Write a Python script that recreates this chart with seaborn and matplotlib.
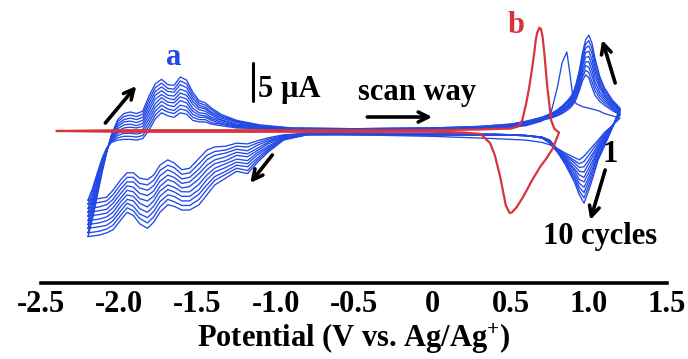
import matplotlib
matplotlib.use("Agg")
import matplotlib.pyplot as plt
import numpy as np
import pandas as pd
import seaborn as sns
from matplotlib.ticker import FixedLocator, FixedFormatter, MultipleLocator

sns.set_style("white")
plt.rcParams["font.family"] = ["Liberation Serif", "DejaVu Serif"]
plt.rcParams["font.weight"] = "bold"
plt.rcParams["text.color"] = "black"
plt.rcParams["axes.labelcolor"] = "black"
plt.rcParams["xtick.color"] = "black"
plt.rcParams["mathtext.fontset"] = "custom"
plt.rcParams["mathtext.bf"] = "Liberation Serif:bold"
plt.rcParams["mathtext.rm"] = "Liberation Serif:bold"
plt.rcParams["mathtext.default"] = "bf"

# ---------------- data (potential in V, current in uA) ----------------
cycles = list(range(1, 11))

# anodic (forward) sweep, -2.2 V -> 1.2 V ; one row per potential, columns = cycle 1..10
fwd_potential = [-2.20, -2.17, -2.14, -2.11, -2.08, -2.05, -2.01, -1.97, -1.93, -1.89,
                 -1.85, -1.81, -1.77, -1.73, -1.69, -1.65, -1.61, -1.57, -1.53, -1.49,
                 -1.45, -1.41, -1.35, -1.25, -1.10, -0.90, -0.50, 0.00, 0.30, 0.50,
                 0.60, 0.70, 0.76, 0.80, 0.83, 0.86, 0.88, 0.90, 0.92, 0.94,
                 0.96, 0.98, 1.00, 1.02, 1.04, 1.07, 1.10, 1.15, 1.20]
fwd_current = [
    [-9.1, -9.6, -10.2, -10.7, -11.2, -11.8, -12.3, -12.8, -13.4, -13.9],
    [-7.5, -7.9, -8.4, -8.8, -9.3, -9.7, -10.2, -10.6, -11.1, -11.5],
    [-5.5, -5.8, -6.2, -6.5, -6.8, -7.2, -7.5, -7.8, -8.2, -8.5],
    [-3.6, -3.8, -4.0, -4.2, -4.4, -4.7, -4.9, -5.1, -5.3, -5.5],
    [-2.2, -2.3, -2.3, -2.4, -2.5, -2.5, -2.6, -2.7, -2.7, -2.8],
    [-1.5, -1.4, -1.3, -1.2, -1.1, -0.9, -0.8, -0.7, -0.6, -0.5],
    [-1.2, -0.9, -0.6, -0.3, 0.0, 0.3, 0.6, 0.9, 1.2, 1.5],
    [-1.1, -0.7, -0.3, 0.0, 0.4, 0.8, 1.2, 1.5, 1.9, 2.3],
    [-1.1, -0.7, -0.3, 0.1, 0.5, 0.9, 1.3, 1.7, 2.1, 2.5],
    [-1.2, -0.8, -0.4, 0.0, 0.4, 0.7, 1.1, 1.5, 1.9, 2.3],
    [-1.0, -0.6, -0.2, 0.2, 0.6, 1.0, 1.4, 1.8, 2.2, 2.6],
    [0.1, 0.6, 1.1, 1.6, 2.1, 2.6, 3.1, 3.6, 4.1, 4.6],
    [1.6, 2.1, 2.6, 3.1, 3.6, 4.2, 4.7, 5.2, 5.7, 6.2],
    [2.4, 2.9, 3.4, 3.9, 4.4, 4.8, 5.3, 5.8, 6.3, 6.8],
    [2.0, 2.5, 2.9, 3.4, 3.8, 4.3, 4.7, 5.2, 5.6, 6.1],
    [1.8, 2.3, 2.7, 3.2, 3.7, 4.1, 4.6, 5.1, 5.5, 6.0],
    [2.4, 2.9, 3.4, 4.0, 4.5, 5.0, 5.5, 6.1, 6.6, 7.1],
    [2.2, 2.7, 3.2, 3.7, 4.2, 4.7, 5.2, 5.7, 6.2, 6.7],
    [1.4, 1.8, 2.2, 2.6, 3.0, 3.5, 3.9, 4.3, 4.7, 5.1],
    [1.2, 1.5, 1.8, 2.1, 2.4, 2.8, 3.1, 3.4, 3.7, 4.0],
    [1.2, 1.5, 1.8, 2.0, 2.3, 2.6, 2.9, 3.1, 3.4, 3.7],
    [0.9, 1.1, 1.4, 1.6, 1.8, 2.1, 2.3, 2.5, 2.8, 3.0],
    [0.7, 0.9, 1.0, 1.2, 1.4, 1.5, 1.7, 1.9, 2.0, 2.2],
    [0.4, 0.5, 0.6, 0.7, 0.8, 0.9, 1.1, 1.2, 1.3, 1.4],
    [0.3, 0.4, 0.4, 0.5, 0.5, 0.6, 0.6, 0.7, 0.7, 0.8],
    [0.1, 0.2, 0.2, 0.2, 0.3, 0.3, 0.3, 0.3, 0.4, 0.4],
    [0.1, 0.1, 0.1, 0.2, 0.2, 0.2, 0.2, 0.3, 0.3, 0.3],
    [0.2, 0.2, 0.2, 0.3, 0.3, 0.3, 0.3, 0.4, 0.4, 0.4],
    [0.3, 0.3, 0.4, 0.4, 0.4, 0.5, 0.5, 0.5, 0.6, 0.6],
    [0.5, 0.5, 0.6, 0.6, 0.7, 0.7, 0.8, 0.8, 0.9, 0.9],
    [0.7, 0.8, 0.8, 0.9, 1.0, 1.0, 1.1, 1.2, 1.2, 1.3],
    [1.3, 1.4, 1.5, 1.5, 1.6, 1.6, 1.7, 1.7, 1.8, 1.8],
    [2.5, 1.7, 1.8, 1.9, 1.9, 2.0, 2.1, 2.1, 2.2, 2.3],
    [5.8, 2.0, 2.1, 2.2, 2.3, 2.4, 2.5, 2.6, 2.7, 2.8],
    [9.0, 2.3, 2.4, 2.6, 2.7, 2.8, 2.9, 3.0, 3.2, 3.3],
    [10.4, 2.7, 2.9, 3.0, 3.2, 3.3, 3.5, 3.6, 3.8, 3.9],
    [7.5, 3.0, 3.2, 3.4, 3.5, 3.7, 3.9, 4.1, 4.2, 4.4],
    [4.2, 3.5, 3.7, 3.9, 4.1, 4.3, 4.4, 4.6, 4.8, 5.0],
    [3.6, 4.2, 4.5, 4.7, 5.0, 5.3, 5.5, 5.8, 6.0, 6.3],
    [3.4, 5.3, 5.6, 6.0, 6.3, 6.7, 7.0, 7.3, 7.7, 8.0],
    [3.2, 6.6, 7.1, 7.5, 8.0, 8.5, 8.9, 9.4, 9.8, 10.3],
    [3.1, 7.4, 8.0, 8.6, 9.1, 9.7, 10.3, 10.9, 11.4, 12.0],
    [3.0, 7.0, 7.7, 8.4, 9.1, 9.8, 10.5, 11.2, 11.9, 12.6],
    [2.9, 5.8, 6.5, 7.3, 8.0, 8.7, 9.4, 10.2, 10.9, 11.6],
    [2.8, 4.7, 5.3, 5.9, 6.5, 7.2, 7.8, 8.4, 9.0, 9.6],
    [2.6, 3.9, 4.3, 4.7, 5.1, 5.6, 6.0, 6.4, 6.8, 7.2],
    [2.3, 3.4, 3.7, 4.0, 4.3, 4.6, 4.8, 5.1, 5.4, 5.7],
    [2.0, 2.7, 2.9, 3.1, 3.2, 3.4, 3.6, 3.8, 3.9, 4.1],
    [1.7, 2.1, 2.2, 2.3, 2.4, 2.6, 2.7, 2.8, 2.9, 3.0],
]

# cathodic (reverse) sweep, 1.15 V -> -2.2 V
rev_potential = [1.15, 1.10, 1.06, 1.03, 1.00, 0.97, 0.94, 0.91, 0.88, 0.85,
                 0.80, 0.75, 0.70, 0.60, 0.40, 0.00, -0.50, -0.80, -0.95, -1.05,
                 -1.12, -1.18, -1.25, -1.32, -1.39, -1.44, -1.49, -1.55, -1.60, -1.65,
                 -1.69, -1.74, -1.78, -1.82, -1.87, -1.91, -1.95, -1.99, -2.04, -2.08,
                 -2.13, -2.20]
rev_current = [
    [0.7, 0.7, 0.6, 0.6, 0.6, 0.5, 0.5, 0.5, 0.4, 0.4],
    [-0.2, -0.4, -0.6, -0.8, -1.0, -1.2, -1.4, -1.6, -1.8, -2.0],
    [-1.2, -1.5, -1.8, -2.1, -2.4, -2.6, -2.9, -3.2, -3.5, -3.8],
    [-1.9, -2.3, -2.8, -3.2, -3.7, -4.1, -4.6, -5.0, -5.5, -5.9],
    [-2.6, -3.2, -3.8, -4.3, -4.9, -5.5, -6.1, -6.6, -7.2, -7.8],
    [-3.3, -4.0, -4.7, -5.4, -6.1, -6.7, -7.4, -8.1, -8.8, -9.5],
    [-3.8, -4.3, -4.8, -5.3, -5.8, -6.4, -6.9, -7.4, -7.9, -8.4],
    [-3.5, -3.9, -4.2, -4.6, -5.0, -5.3, -5.7, -6.1, -6.4, -6.8],
    [-3.2, -3.5, -3.7, -4.0, -4.3, -4.5, -4.8, -5.1, -5.3, -5.6],
    [-2.9, -3.1, -3.2, -3.4, -3.6, -3.7, -3.9, -4.1, -4.2, -4.4],
    [-2.3, -2.4, -2.4, -2.5, -2.5, -2.6, -2.6, -2.7, -2.7, -2.8],
    [-1.8, -1.2, -1.2, -1.3, -1.3, -1.4, -1.4, -1.5, -1.5, -1.6],
    [-1.5, -0.8, -0.8, -0.8, -0.8, -0.9, -0.9, -0.9, -0.9, -0.9],
    [-1.2, -0.6, -0.6, -0.6, -0.6, -0.6, -0.6, -0.6, -0.6, -0.6],
    [-1.0, -0.4, -0.4, -0.5, -0.5, -0.5, -0.5, -0.5, -0.5, -0.5],
    [-0.7, -0.4, -0.4, -0.4, -0.4, -0.5, -0.5, -0.5, -0.5, -0.5],
    [-0.5, -0.3, -0.3, -0.3, -0.4, -0.4, -0.4, -0.4, -0.5, -0.5],
    [-0.3, -0.3, -0.3, -0.4, -0.4, -0.4, -0.4, -0.5, -0.5, -0.5],
    [-0.5, -0.6, -0.7, -0.7, -0.8, -0.9, -1.0, -1.0, -1.1, -1.2],
    [-0.9, -1.1, -1.3, -1.5, -1.7, -2.0, -2.2, -2.4, -2.6, -2.8],
    [-1.3, -1.6, -1.9, -2.3, -2.6, -2.9, -3.2, -3.6, -3.9, -4.2],
    [-1.7, -2.1, -2.6, -3.0, -3.4, -3.9, -4.3, -4.7, -5.2, -5.6],
    [-1.6, -2.0, -2.4, -2.8, -3.2, -3.7, -4.1, -4.5, -4.9, -5.3],
    [-2.0, -2.5, -2.9, -3.4, -3.9, -4.3, -4.8, -5.3, -5.7, -6.2],
    [-2.1, -2.7, -3.2, -3.8, -4.3, -4.9, -5.4, -6.0, -6.5, -7.1],
    [-2.5, -3.2, -3.8, -4.5, -5.1, -5.8, -6.4, -7.1, -7.7, -8.4],
    [-3.6, -4.3, -5.0, -5.6, -6.3, -7.0, -7.7, -8.3, -9.0, -9.7],
    [-4.9, -5.5, -6.1, -6.7, -7.3, -8.0, -8.6, -9.2, -9.8, -10.4],
    [-5.1, -5.7, -6.3, -6.9, -7.5, -8.0, -8.6, -9.2, -9.8, -10.4],
    [-4.2, -4.8, -5.5, -6.1, -6.7, -7.4, -8.0, -8.6, -9.3, -9.9],
    [-3.8, -4.5, -5.1, -5.8, -6.4, -7.1, -7.7, -8.4, -9.0, -9.7],
    [-4.5, -5.2, -5.9, -6.6, -7.3, -7.9, -8.6, -9.3, -10.0, -10.7],
    [-5.8, -6.5, -7.2, -7.9, -8.6, -9.2, -9.9, -10.6, -11.3, -12.0],
    [-6.4, -7.1, -7.8, -8.5, -9.2, -10.0, -10.7, -11.4, -12.1, -12.8],
    [-6.2, -6.9, -7.5, -8.2, -8.9, -9.5, -10.2, -10.9, -11.5, -12.2],
    [-5.5, -6.1, -6.7, -7.4, -8.0, -8.6, -9.2, -9.9, -10.5, -11.1],
    [-5.5, -6.1, -6.7, -7.2, -7.8, -8.4, -9.0, -9.5, -10.1, -10.7],
    [-6.4, -7.0, -7.6, -8.2, -8.8, -9.3, -9.9, -10.5, -11.1, -11.7],
    [-7.8, -8.4, -9.0, -9.5, -10.1, -10.7, -11.3, -11.8, -12.4, -13.0],
    [-8.7, -9.2, -9.7, -10.3, -10.8, -11.3, -11.8, -12.4, -12.9, -13.4],
    [-8.9, -9.4, -10.0, -10.5, -11.0, -11.6, -12.1, -12.6, -13.2, -13.7],
    [-9.1, -9.6, -10.2, -10.7, -11.2, -11.8, -12.3, -12.8, -13.4, -13.9],
]

# curve b (red, single scan)
red_fwd_potential = [-2.40, -2.00, -1.00, 0.00, 0.30, 0.45, 0.50, 0.55, 0.575, 0.60, 0.62, 0.64,
                     0.652, 0.66, 0.67, 0.685, 0.695, 0.705, 0.716, 0.735, 0.76, 0.78, 0.81]
red_fwd_current = [0.0, 0.1, 0.1, 0.1, 0.2, 0.3, 0.3, 0.6, 1.4, 3.6, 5.8, 8.5,
                   10.3, 11.8, 12.9, 13.6, 13.4, 12.4, 10.3, 5.8, 1.4, 0.3, -0.2]
red_rev_potential = [0.77, 0.73, 0.69, 0.64, 0.58, 0.54, 0.51, 0.495, 0.47, 0.435, 0.40, 0.37,
                     0.31, 0.20, 0.00, -1.00, -2.00, -2.40]
red_rev_current = [-2.3, -3.6, -4.7, -6.4, -8.7, -10.0, -10.7, -10.8, -9.8, -6.1, -3.2, -1.6,
                   -0.4, -0.2, -0.1, -0.1, -0.1, 0.0]

tick_values = [-2.5, -2.0, -1.5, -1.0, -0.5, 0.0, 0.5, 1.0, 1.5]
tick_labels = ["-2.5", "-2.0", "-1.5", "-1.0", "-0.5", "0", "0.5", "1.0", "1.5"]

BLUE = "#2248e6"
RED = "#d8343c"

# ---------------- build tables ----------------
rows = []
for k, c in enumerate(cycles):
    order = 0
    for e, r in zip(fwd_potential, fwd_current):
        rows.append({"cycle": c, "order": order, "E": e, "I": r[k]})
        order += 1
    for e, r in zip(rev_potential, rev_current):
        rows.append({"cycle": c, "order": order, "E": e, "I": r[k]})
        order += 1
blue_df = pd.DataFrame(rows)

red_df = pd.DataFrame({
    "E": red_fwd_potential + red_rev_potential,
    "I": red_fwd_current + red_rev_current,
    "curve": "b",
})

# ---------------- figure ----------------
W, H = 688, 359
fig = plt.figure(figsize=(W / 100, H / 100), dpi=100)
ax = fig.add_axes([41 / W, (H - 283) / H, 626 / W, (283 - 5) / H])

sns.lineplot(data=blue_df, x="E", y="I", units="cycle", estimator=None, sort=False,
             color=BLUE, lw=0.95, ax=ax, zorder=2)
sns.lineplot(data=red_df, x="E", y="I", estimator=None, sort=False,
             color=RED, lw=1.6, ax=ax, zorder=3)

ax.set_xlim(-2.5, 1.5)
ax.set_ylim((131 - 283) / 7.6, (131 - 5) / 7.6)

for s in ["left", "right", "top"]:
    ax.spines[s].set_visible(False)
ax.spines["bottom"].set_linewidth(2.6)
ax.spines["bottom"].set_color("black")
ax.set_yticks([])
ax.xaxis.set_major_locator(FixedLocator(tick_values))
ax.xaxis.set_major_formatter(FixedFormatter(tick_labels))
ax.xaxis.set_minor_locator(MultipleLocator(0.25))
ax.tick_params(axis="x", which="major", direction="out", length=5, width=2,
               labelsize=22, pad=0, colors="black")
ax.tick_params(axis="x", which="minor", direction="out", length=3, width=1.6, colors="black")
for lbl in ax.get_xticklabels():
    lbl.set_fontweight("bold")
    lbl.set_color("black")
ax.set_xlabel("Potential (V vs. Ag/Ag$^{+}$)", fontsize=22, fontweight="bold",
              labelpad=2, color="black")
ax.set_ylabel("")

# ---------------- annotations ----------------
txt = dict(fontsize=22, fontweight="bold")
ax.text(-1.655, 8.7, "a", color=BLUE, ha="center", va="baseline", **txt)
ax.text(0.537, 12.9, "b", color=RED, ha="center", va="baseline", **txt)
ax.plot([-1.144, -1.144], [4.0, 9.0], color="black", lw=2.2)
ax.text(-1.112, 4.5, "5 µA", color="black", ha="left", va="baseline", **txt)
ax.text(-0.096, 4.1, "scan way", color="black", ha="center", va="baseline", **txt)
ax.text(1.137, -4.1, "1", color="black", ha="center", va="baseline", **txt)
ax.text(1.073, -14.9, "10 cycles", color="black", ha="center", va="baseline", **txt)

arrow = dict(arrowstyle="->", lw=2.6, color="black", mutation_scale=18,
             shrinkA=0, shrinkB=0)
for tail, head in [((-2.089, 1.05), (-1.891, 5.92)),
                   ((-1.022, -3.16), (-1.163, -6.84)),
                   ((-0.415, 1.84), (0.0, 1.84)),
                   ((1.169, 6.32), (1.086, 11.97)),
                   ((1.105, -5.13), (1.010, -11.71))]:
    ax.annotate("", xy=head, xytext=tail, arrowprops=arrow)

fig.savefig("out.png", dpi=100)
